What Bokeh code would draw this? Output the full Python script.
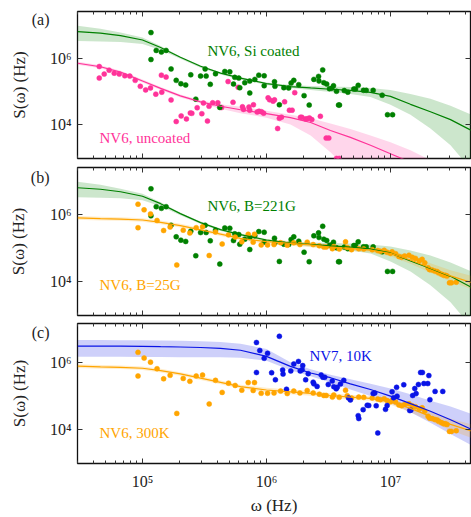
from bokeh.plotting import figure
from bokeh.models import Range1d, FixedTicker, LogAxis
from bokeh.models import Label
from bokeh.layouts import column
from bokeh.embed import file_html
from bokeh.resources import INLINE

# ---------------- data ----------------
# NV6 (Si coated / B=221G) measured points
green_w = [1.17e5, 1.17e5, 1.29e5, 1.42e5, 1.55e5, 1.70e5, 1.87e5, 2.04e5, 2.23e5, 2.45e5,
           2.69e5, 2.94e5, 3.20e5, 3.26e5, 3.52e5, 3.88e5, 4.20e5, 4.61e5, 5.06e5, 5.42e5,
           5.55e5, 5.98e5, 6.09e5, 6.68e5, 7.33e5, 7.33e5, 8.05e5, 8.67e5, 9.58e5, 9.58e5,
           1.16e6, 1.17e6, 1.27e6, 1.38e6, 1.51e6, 1.58e6, 1.66e6, 1.82e6, 2.01e6, 2.21e6,
           2.41e6, 2.63e6, 2.65e6, 2.84e6, 2.90e6, 3.06e6, 3.22e6, 3.36e6, 3.47e6, 3.67e6,
           3.81e6, 3.88e6, 4.24e6, 4.53e6, 5.06e6, 5.22e6, 5.49e6, 6.06e6, 6.37e6, 7.25e6,
           8.57e6, 9.46e6, 1.04e7]
green_s = [5.8e6, 9.0e5, 1.69e6, 1.51e6, 1.69e6, 4.71e5, 2.13e5, 1.69e5, 1.55e5, 3.13e5,
           5.8e4, 2.86e5, 4.71e5, 2.86e5, 1.62e5, 3.35e5, 3.27e4, 3.94e5, 3.84e5, 1.65e5,
           2.62e5, 2.49e5, 1.28e5, 1.81e5, 2.03e5, 8.9e4, 2.28e5, 3.06e5, 2.92e5, 1.47e5,
           1.94e5, 1.41e5, 3.93e4, 1.28e5, 1.26e5, 1.77e5, 2.13e5, 1.58e5, 7.4e4, 3.85e4,
           2.28e5, 2.8e5, 2.03e5, 4.4e5, 1.81e5, 1.65e5, 1.2e5, 1.23e5, 1.47e5, 1.0e5,
           3.85e4, 3.85e4, 1.05e5, 9.4e4, 1.17e5, 1.17e5, 1.51e5, 1.07e5, 1.07e5, 1.07e5,
           7.6e4, 1.98e4, 1.98e4]

# NV6 uncoated
pink_w = [4.48e4, 4.48e4, 4.91e4, 5.38e4, 5.91e4, 6.49e4, 7.20e4, 7.90e4, 8.73e4, 9.60e4,
          1.06e5, 1.16e5, 1.28e5, 1.42e5, 1.43e5, 1.55e5, 1.70e5, 1.87e5, 2.05e5, 2.26e5,
          2.43e5, 2.50e5, 2.76e5, 3.01e5, 3.10e5, 3.34e5, 3.44e5, 3.68e5, 4.05e5, 4.34e5,
          4.90e5, 5.37e5, 5.91e5, 6.40e5, 6.53e5, 7.22e5, 7.32e5, 7.85e5, 8.41e5, 8.71e5,
          9.12e5, 9.49e5, 1.03e6, 1.06e6, 1.13e6, 1.16e6, 1.23e6, 1.27e6, 1.32e6, 1.40e6,
          1.53e6, 1.61e6, 1.69e6, 1.88e6, 1.93e6, 2.06e6, 2.13e6, 2.22e6, 2.32e6, 2.72e6,
          3.03e6, 3.18e6, 3.67e6, 3.86e6]
pink_s = [5.55e5, 2.49e5, 3.28e5, 4.31e5, 3.51e5, 3.28e5, 2.92e5, 2.86e5, 2.13e5, 1.41e5,
          1.10e5, 1.26e5, 8.2e4, 3.06e5, 9.4e4, 2.67e5, 5.5e4, 1.23e4, 1.82e4, 1.48e4,
          2.23e4, 2.17e4, 3.2e4, 2.12e4, 4.42e4, 1.27e4, 3.55e4, 4.51e4, 4.51e4, 3.24e4,
          1.96e5, 4.67e4, 1.32e5, 3.43e4, 2.85e4, 3.36e4, 2.7e4, 3.93e4, 2.38e4, 2.52e4,
          2.43e4, 2.2e4, 6.34e4, 5.53e4, 5.06e4, 5.53e4, 7.6e3, 1.54e4, 1.67e4, 4.82e4,
          2.7e4, 2.7e4, 9.1e4, 1.65e4, 1.65e4, 1.48e4, 1.5e4, 1.58e4, 1.41e4, 1.77e4,
          3.92e3, 3.92e3, 9.6e2, 9.6e2]

# NV6 (B=25G / 300K)
orange_w = [9.2e4, 9.2e4, 1.03e5, 1.16e5, 1.31e5, 1.48e5, 1.67e5, 1.89e5, 2.13e5, 2.41e5,
            2.71e5, 3.05e5, 3.45e5, 3.88e5, 4.39e5, 4.94e5, 5.59e5, 6.32e5, 7.12e5, 7.81e5,
            8.0e5, 9.06e5, 1.02e6, 1.15e6, 1.30e6, 1.47e6, 1.66e6, 1.86e6, 2.13e6, 2.38e6,
            2.67e6, 2.90e6, 3.03e6, 3.40e6, 3.49e6, 3.86e6, 4.34e6, 4.48e6, 4.85e6, 5.55e6,
            6.09e6, 7.12e6, 7.90e6, 8.30e6, 8.90e6, 9.40e6, 1.00e7, 1.03e7, 1.10e7, 1.17e7,
            1.23e7, 1.30e7, 1.41e7, 1.50e7, 1.59e7, 1.71e7, 1.80e7, 1.89e7, 2.01e7, 2.07e7,
            2.17e7, 2.28e7, 2.38e7, 2.45e7, 2.58e7, 2.69e7, 2.78e7, 2.86e7, 2.99e7, 3.10e7,
            3.39e7]
orange_s = [2.01e6, 3.99e5, 1.36e6, 1.03e6, 6.57e5, 3.29e5, 4.18e5, 3.08e4, 3.37e5, 2.78e5,
            3.99e5, 4.26e5, 5.9e4, 2.96e5, 1.3e5, 2.44e5, 2.09e5, 1.51e5, 2.54e5, 1.48e5,
            2.54e5, 1.22e5, 1.22e5, 1.25e5, 1.42e5, 1.2e5, 1.42e5, 1.25e5, 1.48e5, 1.25e5,
            1.15e5, 1.05e5, 1.05e5, 9.4e4, 1.09e5, 9.25e4, 1.51e5, 1.03e5, 8.8e4, 9.4e4,
            9.25e4, 8.8e4, 8.3e4, 7.9e4, 8.45e4, 7.4e4, 6.8e4, 7.6e4, 6.7e4, 5.5e4,
            5.2e4, 5.7e4, 6.0e4, 5.2e4, 4.84e4, 4.15e4, 4.54e4, 3.57e4, 2.54e4, 2.23e4,
            2.17e4, 2.04e4, 1.96e4, 1.79e4, 1.64e4, 1.51e4, 1.51e4, 1.45e4, 9.0e3, 9.0e3,
            9.4e3]

# NV7, 10K
blue_w = [8.3e5, 8.83e5, 9.58e5, 1.02e6, 8.3e5, 1.10e6, 1.27e6, 1.18e6, 1.35e6, 1.36e6,
          1.45e6, 1.57e6, 1.66e6, 1.81e6, 1.87e6, 1.96e6, 1.94e6, 2.17e6, 2.07e6, 2.38e6,
          2.41e6, 2.56e6, 2.76e6, 2.85e6, 2.95e6, 3.15e6, 3.39e6, 3.49e6, 3.65e6, 3.72e6,
          3.95e6, 4.20e6, 4.59e6, 4.75e6, 5.49e6, 5.55e6, 6.02e6, 6.49e6, 6.68e6, 7.25e6,
          7.47e6, 7.67e6, 7.90e6, 9.12e6, 9.40e6, 1.03e7, 1.06e7, 1.13e7, 1.12e7, 1.28e7,
          1.43e7, 1.46e7, 1.51e7, 1.57e7, 1.61e7, 1.68e7, 1.75e7, 1.81e7, 1.86e7, 2.00e7,
          2.04e7, 2.08e7, 2.29e7, 2.64e7]
blue_s = [3.94e6, 2.29e6, 1.34e6, 1.88e6, 5.07e5, 4.98e5, 6.04e6, 3.08e5, 6.04e5, 4.54e5,
          1.61e5, 5.66e5, 9.08e5, 1.08e6, 5.66e5, 8.13e5, 6.15e5, 4.66e5, 3.08e5, 2.61e5,
          2.33e5, 1.96e5, 4.26e5, 3.67e5, 3.67e5, 2.23e5, 2.83e5, 1.92e5, 1.66e5, 1.84e5,
          2.29e5, 2.96e5, 8.85e4, 7.77e4, 2.64e4, 2.17e4, 3.99e4, 5.37e4, 5.3e4, 1.2e5,
          1.25e5, 5.2e4, 8.1e3, 4.07e4, 5.3e4, 1.36e5, 9.0e4, 1.0e5, 1.84e5, 2.19e5,
          3.74e4, 3.84e4, 1.05e5, 1.69e5, 1.2e5, 2.23e5, 5.07e5, 5.07e5, 2.38e5, 2.38e5,
          4.1e5, 7.9e4, 1.39e5, 1.39e5]

# fitted curves and their confidence bands
curve_w = [3.0e4, 4.58e4, 6.65e4, 1.0e5, 1.40e5, 2.02e5, 2.94e5, 4.26e5, 6.17e5, 1.0e6,
           1.56e6, 2.27e6, 3.28e6, 4.75e6, 6.9e6, 1.0e7, 1.45e7, 2.1e7, 3.05e7, 4.5e7]
green_fit = [6.21e6, 5.61e6, 4.73e6, 3.47e6, 2.08e6, 1.05e6, 5.67e5, 3.51e5, 2.49e5, 1.71e5,
             1.39e5, 1.26e5, 1.15e5, 1.06e5, 9.25e4, 7.03e4, 4.06e4, 2.43e4, 1.41e4, 6.63e3]
green_hi = [9.37e6, 7.64e6, 5.81e6, 4.12e6, 2.31e6, 1.12e6, 6.07e5, 3.76e5, 2.67e5, 1.83e5,
            1.55e5, 1.44e5, 1.39e5, 1.35e5, 1.26e5, 1.10e5, 8.34e4, 5.93e4, 3.67e4, 1.98e4]
green_lo = [3.24e6, 3.13e6, 3.03e6, 2.64e6, 1.75e6, 9.46e5, 5.12e5, 3.17e5, 2.25e5, 1.55e5,
            1.26e5, 1.10e5, 9.57e4, 8.34e4, 6.79e4, 3.93e4, 1.98e4, 7.6e3, 2.38e3, 4.3e2]
pink_fit = [6.96e5, 5.47e5, 3.76e5, 2.03e5, 1.22e5, 7.28e4, 4.82e4, 3.55e4, 2.79e4, 2.12e4,
            1.61e4, 1.15e4, 6.63e3, 4.11e3, 2.38e3, 1.33e3, 7.4e2, 4.0e2, 2.2e2, 1.2e2]
pink_hi = [7.71e5, 6.07e5, 4.17e5, 2.25e5, 1.35e5, 8.06e4, 5.35e4, 4.06e4, 3.43e4, 2.61e4,
           1.98e4, 1.56e4, 1.07e4, 7.35e3, 4.71e3, 2.92e3, 1.69e3, 8.5e2, 3.75e2, 1.5e2]
pink_lo = [6.28e5, 4.94e5, 3.39e5, 1.83e5, 1.10e5, 6.56e4, 4.36e4, 2.99e4, 2.20e4, 1.61e4,
           1.0e4, 4.71e3, 1.47e3, 3.75e2, 1e2, 1e2, 1e2, 1e2, 1e2, 1e2]
orange_fit = [7.82e5, 7.48e5, 7.24e5, 6.78e5, 5.77e5, 4.60e5, 3.44e5, 2.57e5, 1.92e5, 1.53e5,
              1.35e5, 1.22e5, 1.05e5, 9.44e4, 8.57e4, 6.83e4, 4.34e4, 2.51e4, 1.45e4, 9.19e3]
orange_hi = [8.9e5, 8.5e5, 8.2e5, 7.7e5, 6.6e5, 5.2e5, 3.9e5, 2.92e5, 2.18e5, 1.80e5,
             1.59e5, 1.43e5, 1.23e5, 1.11e5, 1.01e5, 8.3e4, 5.6e4, 3.47e4, 2.14e4, 1.45e4]
orange_lo = [6.9e5, 6.6e5, 6.4e5, 6.0e5, 5.1e5, 4.05e5, 3.04e5, 2.27e5, 1.69e5, 1.30e5,
             1.15e5, 1.04e5, 8.9e4, 8.0e4, 7.3e4, 5.6e4, 3.36e4, 1.81e4, 9.8e3, 5.8e3]
blue_fit = [3.10e6, 3.10e6, 3.10e6, 3.04e6, 2.96e6, 2.90e6, 2.81e6, 2.64e6, 2.32e6, 1.53e6,
            7.73e5, 4.91e5, 3.55e5, 2.33e5, 1.58e5, 1.01e5, 6.0e4, 3.57e4, 2.0e4, 1.03e4]
blue_hi = [4.66e6, 4.66e6, 4.63e6, 4.57e6, 4.51e6, 4.43e6, 4.29e6, 4.07e6, 3.65e6, 2.55e6,
           1.03e6, 6.36e5, 4.32e5, 3.22e5, 2.33e5, 1.69e5, 1.15e5, 7.28e4, 4.94e4, 3.0e4]
blue_lo = [1.49e6, 1.49e6, 1.48e6, 1.47e6, 1.46e6, 1.45e6, 1.45e6, 1.43e6, 1.38e6, 1.14e6,
           5.96e5, 3.92e5, 2.57e5, 1.58e5, 1.01e5, 6.19e4, 3.35e4, 1.64e4, 7.57e3, 3.48e3]

x_major = [1e5, 1e6, 1e7]
x_minor = [k * 10.0 ** e for e in (4, 5, 6, 7) for k in range(2, 10)]
y_major = [1e4, 1e6]
x_tick_labels = {1e5: "10\u2075", 1e6: "10\u2076", 1e7: "10\u2077"}
y_tick_labels = {1e4: "10\u2074", 1e6: "10\u2076"}

FONT = "Liberation Serif"
GREEN = "#008000"
PINK = "#ff3399"
ORANGE = "#ffa500"
BLUE = "#0a14e6"

X_RANGE = (2.99e4, 4.42e7)


def style_axis(ax, show_labels, ticks, minor, overrides):
    ax.ticker = FixedTicker(ticks=ticks, minor_ticks=minor)
    ax.axis_line_color = None
    ax.major_tick_in = 5
    ax.major_tick_out = 0
    ax.minor_tick_in = 3
    ax.minor_tick_out = 0
    ax.major_tick_line_color = "#333333"
    ax.minor_tick_line_color = "#333333"
    ax.major_label_text_font = FONT
    ax.major_label_text_color = "#222222"
    if show_labels:
        ax.major_label_overrides = overrides
        ax.major_label_text_font_size = "16px"
        ax.major_label_standoff = 6
    else:
        ax.major_label_text_font_size = "1px"
        ax.major_label_text_alpha = 0.0
        ax.major_label_standoff = 0
    ax.axis_label_text_font = FONT
    ax.axis_label_text_font_style = "normal"
    ax.axis_label_text_font_size = "17px"
    ax.axis_label_text_color = "#222222"


def make_panel(height, top, bottom, y_range, letter, letter_pos, x_labels):
    p = figure(width=471, height=height, x_axis_type="log", y_axis_type="log",
               x_range=Range1d(*X_RANGE), y_range=Range1d(*y_range),
               output_backend="svg", toolbar_location=None,
               min_border_left=77, min_border_right=1,
               min_border_top=top, min_border_bottom=bottom)
    p.grid.visible = False
    p.outline_line_color = "#111111"
    p.outline_line_width = 1.3
    p.background_fill_color = "white"
    p.border_fill_color = "white"
    style_axis(p.xaxis[0], x_labels, x_major, x_minor, x_tick_labels)
    style_axis(p.yaxis[0], True, y_major, [], y_tick_labels)
    if x_labels:
        p.xaxis[0].major_label_standoff = 9
        p.xaxis[0].axis_label = "\u03c9 (Hz)"
        p.xaxis[0].axis_label_standoff = 3
    # outer left axis: carries the panel letter and the axis title
    outer = LogAxis()
    style_axis(outer, True, [letter_pos], [], {letter_pos: letter})
    outer.major_tick_line_color = None
    outer.major_tick_in = 0
    outer.major_label_standoff = -3
    outer.axis_label = "S(\u03c9) (Hz)"
    outer.axis_label_standoff = 0
    p.add_layout(outer, "left")
    top_ax = LogAxis()
    style_axis(top_ax, False, x_major, x_minor, {})
    p.add_layout(top_ax, "above")
    right_ax = LogAxis()
    style_axis(right_ax, False, y_major, [], {})
    p.add_layout(right_ax, "right")
    return p


def add_label(p, x, y, text, color):
    p.add_layout(Label(x=x, y=y, text=text, text_font=FONT, text_font_size="15px",
                       text_color=color, text_baseline="alphabetic"))


def add_series(p, w, s, color, size=5):
    p.scatter(w, s, size=size, fill_color=color, line_color=color, line_width=0.5)


def add_fit(p, fit, lo, hi, color):
    p.varea(x=curve_w, y1=lo, y2=hi, fill_color=color, fill_alpha=0.2)


def add_line(p, fit, color):
    p.line(curve_w, fit, line_color=color, line_width=1.2)


# panel (a)
pa = make_panel(163, 11, 5, (955, 2.5e7), "(a)", 1.45e7, False)
add_fit(pa, pink_fit, pink_lo, pink_hi, PINK)
add_fit(pa, green_fit, green_lo, green_hi, GREEN)
add_series(pa, pink_w, pink_s, PINK)
add_series(pa, green_w, green_s, GREEN)
add_line(pa, pink_fit, PINK)
add_line(pa, green_fit, GREEN)
add_label(pa, 3.34e5, 1.58e6, "NV6, Si coated", GREEN)
add_label(pa, 4.5e4, 4.03e3, "NV6, uncoated", PINK)

# panel (b)
pb = make_panel(156, 4, 4, (955, 2.5e7), "(b)", 1.26e7, False)
add_fit(pb, green_fit, green_lo, green_hi, GREEN)
add_fit(pb, orange_fit, orange_lo, orange_hi, ORANGE)
add_series(pb, green_w, green_s, GREEN)
add_series(pb, orange_w, orange_s, ORANGE)
add_line(pb, green_fit, GREEN)
add_line(pb, orange_fit, ORANGE)
add_label(pb, 3.34e5, 1.77e6, "NV6, B=221G", GREEN)
add_label(pb, 4.5e4, 7.6e3, "NV6, B=25G", ORANGE)

# panel (c)
pc = make_panel(198, 4, 46, (1.0e3, 1.45e7), "(c)", 8.07e6, True)
add_fit(pc, blue_fit, blue_lo, blue_hi, BLUE)
add_fit(pc, orange_fit, orange_lo, orange_hi, ORANGE)
add_series(pc, orange_w, orange_s, ORANGE)
add_series(pc, blue_w, blue_s, BLUE)
add_line(pc, orange_fit, ORANGE)
add_line(pc, blue_fit, BLUE)
add_label(pc, 2.22e6, 1.52e6, "NV7, 10K", BLUE)
add_label(pc, 4.5e4, 7.9e3, "NV6, 300K", ORANGE)

layout = column(pa, pb, pc, spacing=0)
open("out.html", "w").write(file_html(layout, INLINE))
